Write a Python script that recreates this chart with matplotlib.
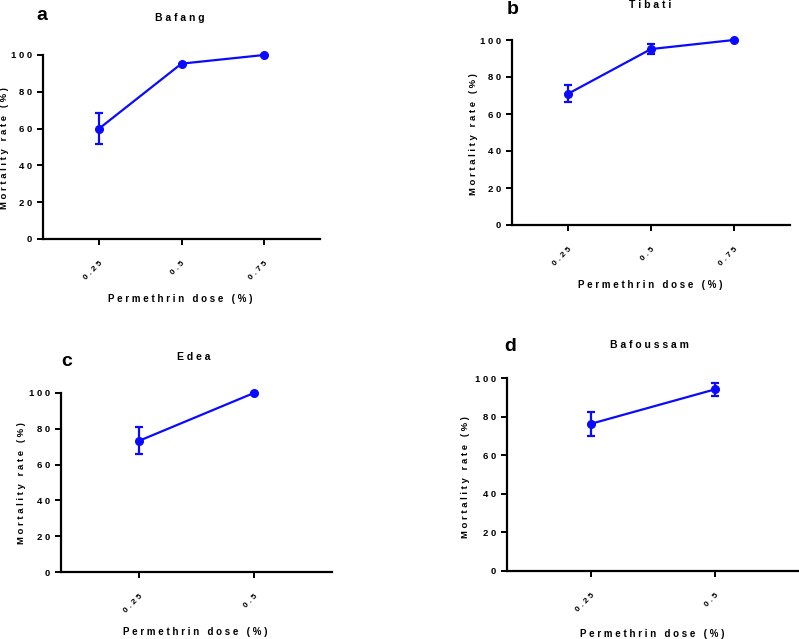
import numpy as np
import matplotlib
matplotlib.use("Agg")
import matplotlib.pyplot as plt

plt.rcParams['font.family'] = ['Liberation Sans', 'DejaVu Sans']

# data
doses_3 = ["0.25", "0.5", "0.75"]
doses_2 = ["0.25", "0.5"]

bafang_mean = [60.0, 95.3, 100.0]
bafang_err = [8.3, 0.0, 0.0]

tibati_mean = [71.0, 95.1, 100.0]
tibati_err = [4.5, 2.5, 0.0]

edea_mean = [73.3, 100.0]
edea_err = [7.6, 0.0]

bafoussam_mean = [76.3, 94.1]
bafoussam_err = [6.3, 3.5]

yticks = [0, 20, 40, 60, 80, 100]

W, H = 799, 639
BLUE = "#0a0aff"


def sp(s):
    # the original pdf render shows wide letter spacing
    return " ".join(s)


def px_axes(fig, x0, x1, ytop, ybot):
    return fig.add_axes([x0 / W, (H - ybot) / H, (x1 - x0) / W, (ybot - ytop) / H])


def panel(fig, box, cats, mean, err, letter, title, letter_xy, title_xy, ylab_xy, xlab_xy):
    ax = px_axes(fig, *box)
    x = np.arange(len(cats))
    line, caps, bars = ax.errorbar(x, mean, yerr=err, color=BLUE, lw=1.6, marker="o", ms=5.5,
                                   capsize=3.2, capthick=1.6, elinewidth=1.6)
    for a in [line, *caps, *bars]:
        a.set_clip_on(False)
    ax.set_xlim(-0.68, len(cats) - 1 + 0.68)
    ax.set_ylim(0, 100)
    ax.set_yticks(yticks)
    ax.set_yticklabels([sp(str(v)) for v in yticks], fontsize=6.8, fontweight="bold")
    ax.set_xticks(x)
    ax.set_xticklabels([sp(c) for c in cats], rotation=45, ha="right",
                       rotation_mode="anchor", fontsize=6, fontweight="bold")
    for s in ["top", "right"]:
        ax.spines[s].set_visible(False)
    for s in ["left", "bottom"]:
        ax.spines[s].set_linewidth(1.6)
    ax.tick_params(axis="both", width=1.4, length=4, pad=4)
    ax.tick_params(axis="x", pad=11)

    fig.text(letter_xy[0] / W, 1 - letter_xy[1] / H, letter, fontsize=14,
             fontweight="bold", ha="left", va="center")
    fig.text(title_xy[0] / W, 1 - title_xy[1] / H, sp(title), fontsize=7.5,
             fontweight="bold", ha="center", va="center")
    fig.text(ylab_xy[0] / W, 1 - ylab_xy[1] / H, sp("Mortality rate (%)"), fontsize=6.8,
             fontweight="bold", ha="center", va="center", rotation=90)
    fig.text(xlab_xy[0] / W, 1 - xlab_xy[1] / H, sp("Permethrin dose (%)"), fontsize=7,
             fontweight="bold", ha="center", va="center")
    return ax


fig = plt.figure(figsize=(W / 100, H / 100), dpi=100)

panel(fig, (43, 320, 55, 239), doses_3, bafang_mean, bafang_err, "a", "Bafang",
      (36, 16), (180, 18), (5, 148), (180, 299))
panel(fig, (512, 790, 40, 225), doses_3, tibati_mean, tibati_err, "b", "Tibati",
      (507, 10), (650, 5), (473, 134), (650, 285))
panel(fig, (61, 332, 393, 572), doses_2, edea_mean, edea_err, "c", "Edea",
      (61, 361), (194, 357), (22, 483), (195, 632))
panel(fig, (507, 799, 378, 571), doses_2, bafoussam_mean, bafoussam_err, "d", "Bafoussam",
      (504, 347), (649, 345), (465, 477), (652, 634))

fig.savefig("out.png", dpi=100)
